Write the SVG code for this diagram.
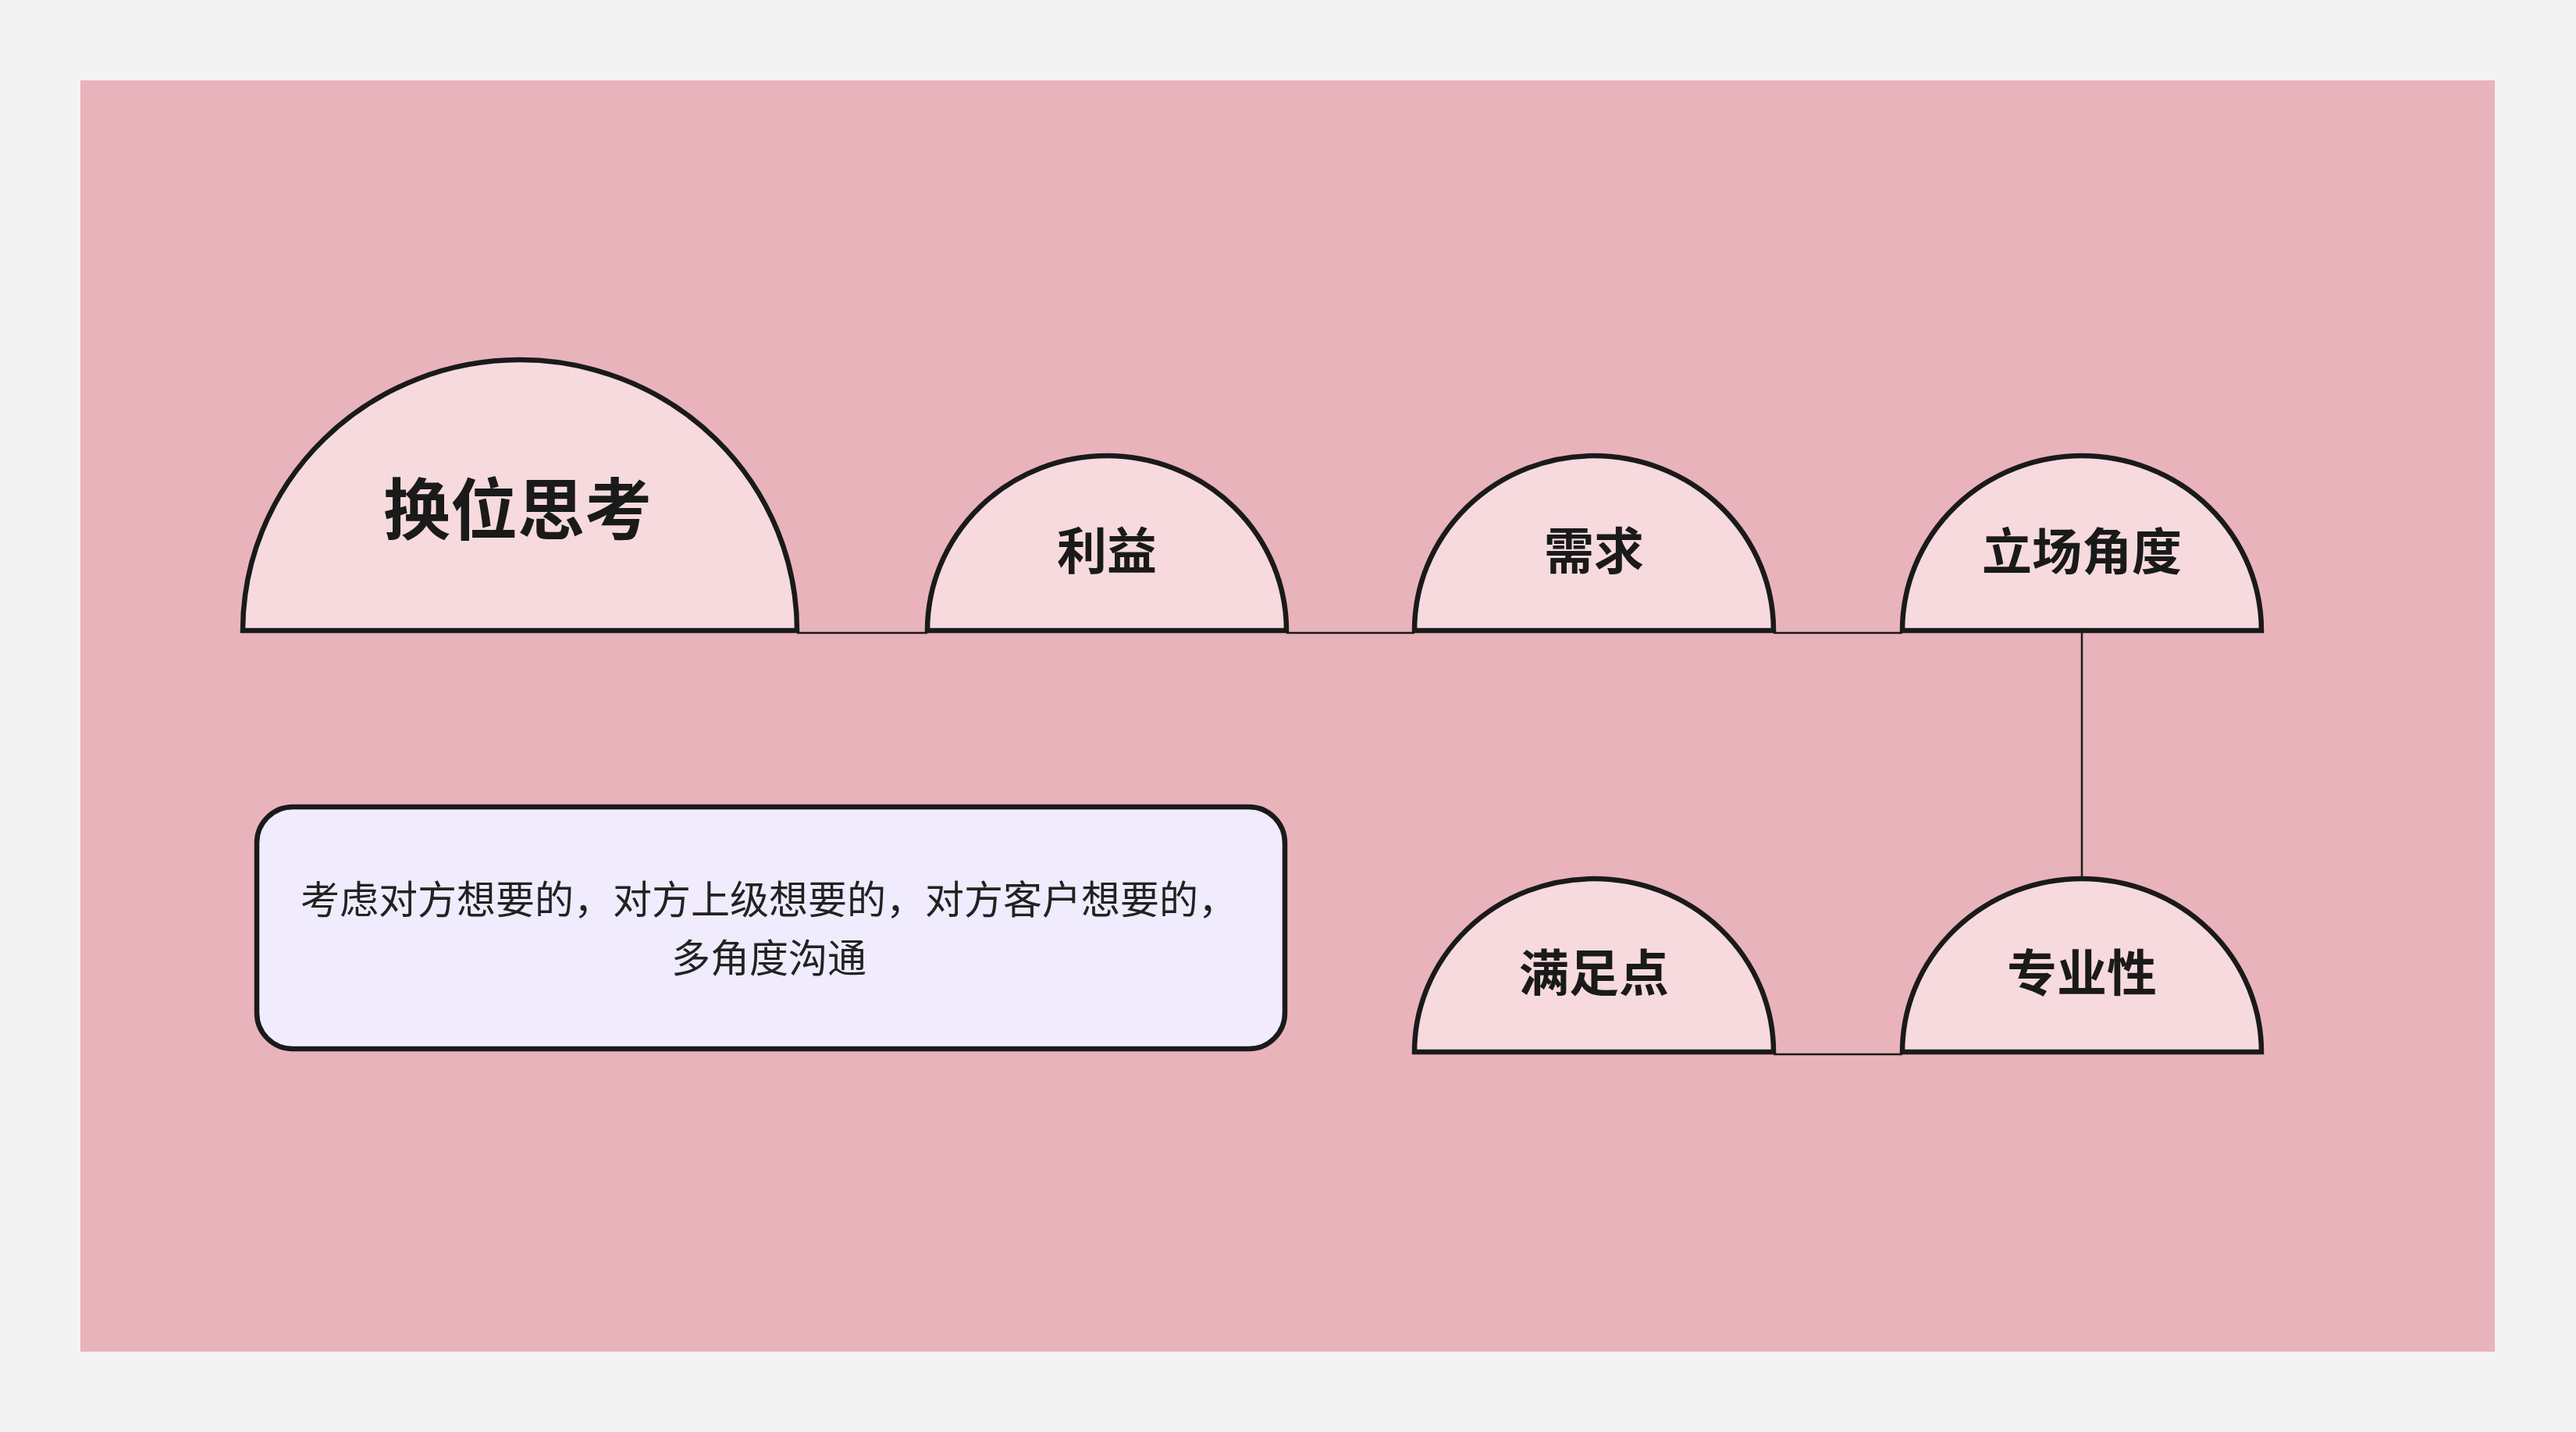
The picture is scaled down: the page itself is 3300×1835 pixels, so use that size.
<svg xmlns="http://www.w3.org/2000/svg" width="3300" height="1835" viewBox="0 0 3300 1835">
<style>
.node{fill:#f6dadd;stroke:#1a1a1a;stroke-width:6.5;stroke-linejoin:miter}
.t{font-family:"Noto Sans CJK SC","Noto Sans",sans-serif;font-weight:bold;fill:#1a1a1a;text-anchor:middle;dominant-baseline:central}
.big{font-size:86px}
.sm{font-size:64px}
.note{fill:#f0ebfd;stroke:#1a1a1a;stroke-width:6.5}
.nt{font-family:"Noto Sans CJK SC","Noto Sans",sans-serif;font-size:50px;fill:#222;text-anchor:middle;dominant-baseline:central}
.c{stroke:#1a1a1a;stroke-width:2.5;fill:none}
</style>
<rect x="0" y="0" width="3300" height="1835" fill="#f3f3f3"/>
<rect x="103" y="103" width="3093" height="1629" fill="#e9b3bb"/>
<g id="connectors">
<line class="c" x1="1021" y1="811" x2="1188" y2="811"/>
<line class="c" x1="1648" y1="811" x2="1812" y2="811"/>
<line class="c" x1="2272" y1="811" x2="2437" y2="811"/>
<line class="c" x1="2667" y1="808" x2="2667" y2="1126"/>
<line class="c" x1="2272" y1="1351" x2="2437" y2="1351"/>
</g>
<g id="n-main">
<path class="node" d="M311 808 A355 347 0 0 1 1021 808 Z"/>
<text class="t big" x="663" y="647">换位思考</text>
</g>
<g id="n-liyi">
<path class="node" d="M1188 808 A230 224 0 0 1 1648 808 Z"/>
<text class="t sm" x="1418" y="701">利益</text>
</g>
<g id="n-xuqiu">
<path class="node" d="M1812 808 A230 224 0 0 1 2272 808 Z"/>
<text class="t sm" x="2042" y="701">需求</text>
</g>
<g id="n-lichang">
<path class="node" d="M2437 808 A230 224 0 0 1 2897 808 Z"/>
<text class="t sm" x="2667" y="702">立场角度</text>
</g>
<g id="n-zhuanye">
<path class="node" d="M2437 1348 A230 222 0 0 1 2897 1348 Z"/>
<text class="t sm" x="2667" y="1242">专业性</text>
</g>
<g id="n-manzu">
<path class="node" d="M1812 1348 A230 222 0 0 1 2272 1348 Z"/>
<text class="t sm" x="2042" y="1242">满足点</text>
</g>
<g id="n-note">
<rect class="note" x="329" y="1034" width="1317" height="310" rx="46" ry="46"/>
<text class="nt" x="985" y="1149">考虑对方想要的，对方上级想要的，对方客户想要的，</text>
<text class="nt" x="985" y="1224">多角度沟通</text>
</g>
</svg>
